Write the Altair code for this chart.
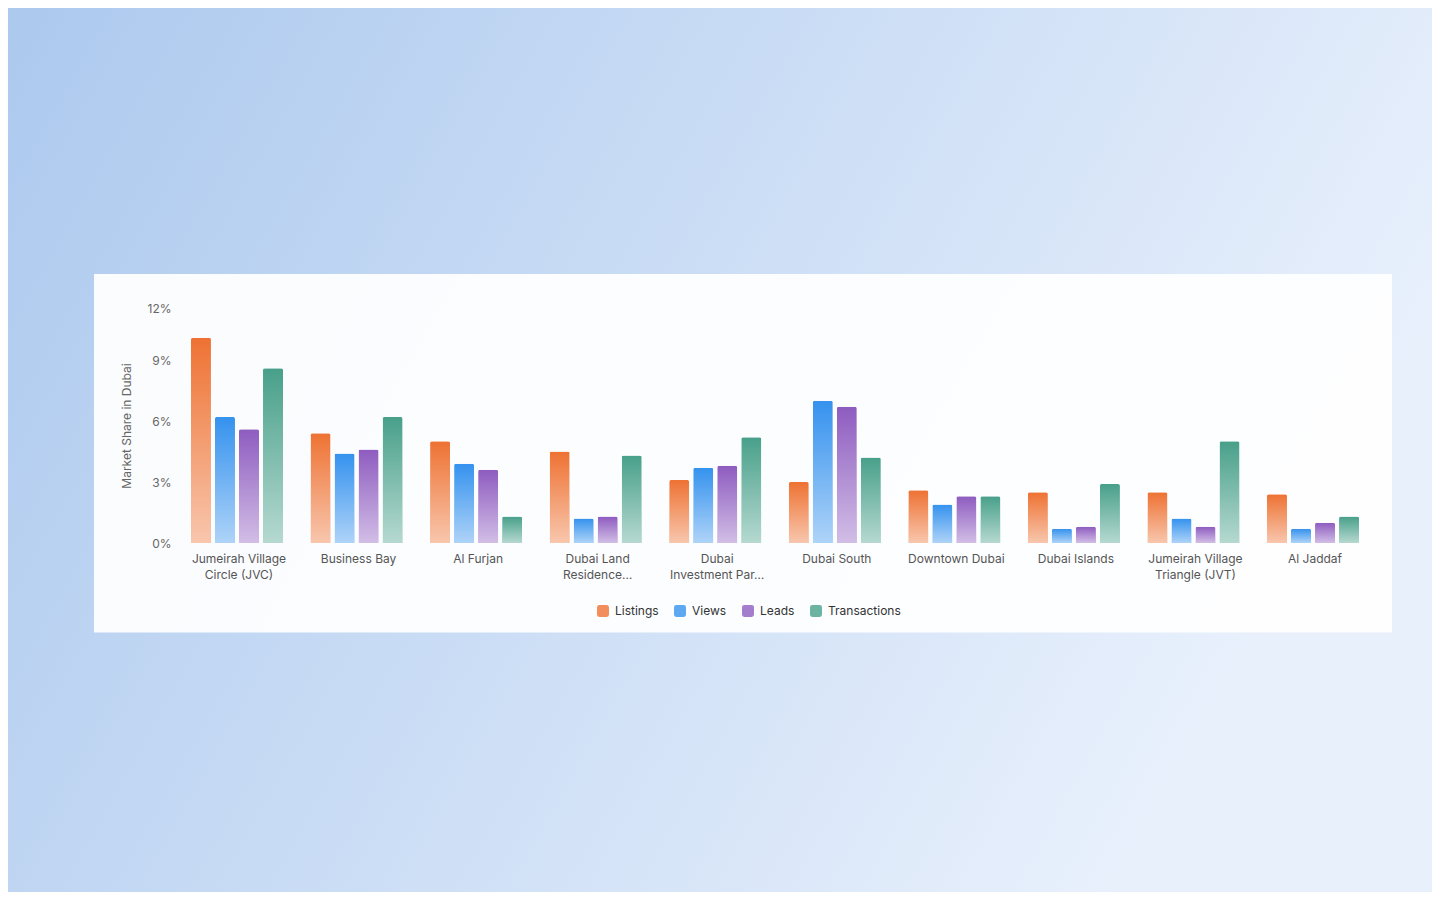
import altair as alt
import pandas as pd

regions = [
    "Jumeirah Village Circle (JVC)", "Business Bay", "Al Furjan",
    "Dubai Land Residence Complex", "Dubai Investment Park", "Dubai South",
    "Downtown Dubai", "Dubai Islands", "Jumeirah Village Triangle (JVT)", "Al Jaddaf",
]
region_labels = [
    ["Jumeirah Village", "Circle (JVC)"], ["Business Bay"], ["Al Furjan"],
    ["Dubai Land", "Residence…"], ["Dubai", "Investment Par…"], ["Dubai South"],
    ["Downtown Dubai"], ["Dubai Islands"], ["Jumeirah Village", "Triangle (JVT)"], ["Al Jaddaf"],
]
series = ["Listings", "Views", "Leads", "Transactions"]
listings = [10.1, 5.4, 5.0, 4.5, 3.1, 3.0, 2.6, 2.5, 2.5, 2.4]
views = [6.2, 4.4, 3.9, 1.2, 3.7, 7.0, 1.9, 0.7, 1.2, 0.7]
leads = [5.6, 4.6, 3.6, 1.3, 3.8, 6.7, 2.3, 0.8, 0.8, 1.0]
transactions = [8.6, 6.2, 1.3, 4.3, 5.2, 4.2, 2.3, 2.9, 5.0, 1.3]
colors = ["#EE7233", "#3592EE", "#8E5CC0", "#48A08A"]
y_ticks = [0, 3, 6, 9, 11.56]

rows = []
for s, vals in zip(series, [listings, views, leads, transactions]):
    for r, v in zip(regions, vals):
        rows.append({"region": r, "series": s, "value": v})
df = pd.DataFrame(rows)

# label expression for x axis
expr = "datum.value"
for r, lab in reversed(list(zip(regions, region_labels))):
    arr = "[" + ",".join("'" + t + "'" for t in lab) + "]"
    expr = f"datum.value == '{r}' ? {arr} : ({expr})"

rounded_sq = ("M -0.6 -1 L 0.6 -1 Q 1 -1 1 -0.6 L 1 0.6 Q 1 1 0.6 1 L -0.6 1 "
              "Q -1 1 -1 0.6 L -1 -0.6 Q -1 -1 -0.6 -1 Z")

one = alt.Data(values=[{"k": 1}])

bg_grad = alt.LinearGradient(
    gradient="linear", x1=0, y1=0, x2=1, y2=0.35,
    stops=[alt.GradientStop(offset=0, color="#ACC9EE"),
           alt.GradientStop(offset=1, color="#E8F0FC")],
)
background = alt.Chart(one).mark_rect(color=bg_grad).encode(
    x=alt.value(-171), x2=alt.value(1253), y=alt.value(-300), y2=alt.value(584)
)
card = alt.Chart(one).mark_rect(color="rgba(255,255,255,0.93)").encode(
    x=alt.value(-85), x2=alt.value(1213), y=alt.value(-34), y2=alt.value(324.5)
)

x_enc = alt.X(
    "region:N", sort=regions,
    scale=alt.Scale(paddingInner=0.23, paddingOuter=0.1),
    axis=alt.Axis(title=None, labelExpr=expr, labelAngle=0, labelPadding=10,
                  labelOffset=2,
                  labelFontSize=12, labelColor="#555", labelLineHeight=16,
                  ticks=False, domain=False, labelLimit=220, labelBaseline="top",
                  zindex=1),
)
xo_enc = alt.XOffset("series:N", sort=series,
                     scale=alt.Scale(domain=series, paddingInner=0.167, paddingOuter=0))
y_enc = alt.Y(
    "value:Q",
    scale=alt.Scale(domain=[0, 11.56], nice=False, zero=True),
    axis=alt.Axis(values=y_ticks,
                  labelExpr="datum.value > 11 ? '12%' : format(datum.value, 'd') + '%'",
                  title="Market Share in Dubai", titleFontSize=12, titleColor="#666",
                  titleFontWeight="normal", titlePadding=14, labelPadding=8,
                  labelFontSize=12, labelColor="#666", ticks=False, domain=False, grid=False,
                  zindex=1),
)

bars = alt.Chart(df).mark_bar(cornerRadiusEnd=2).encode(
    x=x_enc, xOffset=xo_enc, y=y_enc,
    color=alt.Color(
        "series:N", sort=series,
        scale=alt.Scale(domain=series, range=colors),
        legend=alt.Legend(
            orient="none", legendX=418, legendY=297, direction="horizontal",
            title=None, symbolType=rounded_sq, symbolSize=144, labelFontSize=12,
            labelColor="#333", columnPadding=15, labelOffset=6, symbolStrokeWidth=0,
            symbolOpacity=0.8, zindex=1,
        ),
    ),
)

overlay_grad = alt.LinearGradient(
    gradient="linear", x1=0, y1=0, x2=0, y2=1,
    stops=[alt.GradientStop(offset=0, color="rgba(255,255,255,0)"),
           alt.GradientStop(offset=1, color="rgba(255,255,255,0.6)")],
)
overlay = alt.Chart(df).mark_bar(cornerRadiusEnd=2, color=overlay_grad).encode(
    x=alt.X("region:N", sort=regions), xOffset=alt.XOffset("series:N", sort=series), y="value:Q"
)

chart = alt.layer(background, card, bars, overlay).properties(
    width=1192, height=235,
    autosize=alt.AutoSizeParams(type="none"),
    padding={"left": 171, "top": 300, "right": 61, "bottom": 349},
).configure(font="Inter").configure_view(strokeWidth=0)

chart.save("out.html", embed_options={"renderer": "svg", "actions": False})
